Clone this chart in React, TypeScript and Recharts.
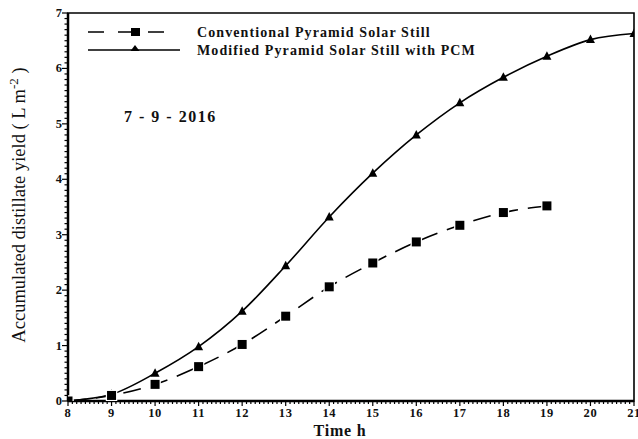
import React from 'react';
import { LineChart, Line, XAxis, YAxis, ReferenceArea, Customized } from 'recharts';

const hours = [8, 9, 10, 11, 12, 13, 14, 15, 16, 17, 18, 19, 20, 21];
const modifiedYield = [0, 0.12, 0.5, 0.98, 1.62, 2.44, 3.32, 4.11, 4.8, 5.38, 5.84, 6.22, 6.52, 6.63];
const conventionalYield = [0, 0.1, 0.3, 0.62, 1.02, 1.53, 2.06, 2.49, 2.87, 3.17, 3.4, 3.52];
const yMajorTicks = [0, 1, 2, 3, 4, 5, 6, 7];
const seriesNames = ['Conventional Pyramid Solar Still', 'Modified Pyramid Solar Still with PCM'];
const dateLabel = '7 - 9 - 2016';
const xTitle = 'Time h';

const data = hours.map((h, i) => ({
  x: h,
  modified: modifiedYield[i],
  conventional: i < conventionalYield.length ? conventionalYield[i] : null,
}));

const xMinorTicks: number[] = [];
for (let i = hours[0] * 10; i <= hours[hours.length - 1] * 10; i++) xMinorTicks.push(i / 10);
const yMinorTicks: number[] = [];
for (let i = yMajorTicks[0] * 10; i <= yMajorTicks[yMajorTicks.length - 1] * 10; i++) yMinorTicks.push(i / 10);

const isMajor = (v: number) => Math.abs(v - Math.round(v)) < 1e-6;
const FONT = '"Liberation Serif", "Times New Roman", serif';

const XTick = (props: any) => {
  const { x, y, payload } = props;
  const v = payload.value;
  const major = isMajor(v);
  return (
    <g>
      <line x1={x} x2={x} y1={y} y2={y + (major ? 5 : 3)} stroke="#000" strokeWidth={1.2} />
      {major && (
        <text x={x} y={y + 16} textAnchor="middle" fontFamily={FONT} fontWeight="bold" fontSize={12.5} letterSpacing={0.6} fill="#111">
          {Math.round(v)}
        </text>
      )}
    </g>
  );
};

const YTick = (props: any) => {
  const { x, y, payload } = props;
  const v = payload.value;
  const major = isMajor(v);
  return (
    <g>
      <line x1={x} x2={x - (major ? 6 : 3.5)} y1={y} y2={y} stroke="#000" strokeWidth={1.2} />
      {major && (
        <text x={x - 6} y={y + 4} textAnchor="end" fontFamily={FONT} fontWeight="bold" fontSize={12.5} fill="#111">
          {Math.round(v)}
        </text>
      )}
    </g>
  );
};

const Square = (props: any) => {
  const { cx, cy, index } = props;
  if (cx == null || cy == null) return <g key={`s${index}`} />;
  return <rect key={`s${index}`} x={cx - 4.5} y={cy - 4.5} width={9} height={9} fill="#000" stroke="#fff" strokeWidth={2.5} paintOrder="stroke" />;
};

const Triangle = (props: any) => {
  const { cx, cy, index } = props;
  if (cx == null || cy == null) return <g key={`t${index}`} />;
  return <path key={`t${index}`} d={`M${cx},${cy - 5} L${cx + 4.5},${cy + 3.5} L${cx - 4.5},${cy + 3.5} Z`} fill="#000" />;
};

const LegendContent = () => (
  <g transform="translate(88,23)">
    <line x1={0} x2={88} y1={9} y2={9} stroke="#000" strokeWidth={1.6} strokeDasharray="16 14" />
    <rect x={43} y={5} width={9} height={8} fill="#000" />
    <text x={109} y={13.5} fontFamily={FONT} fontWeight="bold" fontSize={14} letterSpacing={1.1} fill="#111">{seriesNames[0]}</text>
    <line x1={0} x2={92} y1={27} y2={27} stroke="#000" strokeWidth={1.6} />
    <path d="M47,22 L51.5,28 L42.5,28 Z" fill="#000" />
    <text x={109} y={31.5} fontFamily={FONT} fontWeight="bold" fontSize={14} letterSpacing={1.1} fill="#111">{seriesNames[1]}</text>
  </g>
);

const YLabel = () => (
  <text transform="translate(25,205) rotate(-90)" textAnchor="middle" fontFamily={FONT} fontSize={18.5} fill="#111">
    <tspan>Accumulated distillate yield ( L m</tspan>
    <tspan dy={-7} fontSize={13}>-2</tspan>
    <tspan dy={7}> )</tspan>
  </text>
);

const XLabel = () => (
  <text x={340} y={436} textAnchor="middle" fontFamily={FONT} fontWeight="bold" fontSize={16} letterSpacing={0.8} fill="#111">{xTitle}</text>
);

const DateText = () => (
  <text x={124} y={122} fontFamily={FONT} fontWeight="bold" fontSize={16} letterSpacing={1.5} fill="#111">{dateLabel}</text>
);

export default function App() {
  return (
    <div style={{ position: 'absolute', left: 0, top: 0, background: '#fff' }}>
      <LineChart width={638} height={439} data={data} margin={{ top: 13, right: 4, bottom: 0, left: 0 }}>
        <ReferenceArea x1={8} x2={21} y1={0} y2={7} fill="none" stroke="#000" strokeWidth={1.6} ifOverflow="visible" />
        <XAxis
          dataKey="x"
          type="number"
          domain={[8, 21]}
          ticks={xMinorTicks}
          interval={0}
          tickLine={false}
          tickSize={0}
          tickMargin={0}
          tick={<XTick />}
          axisLine={{ stroke: '#000', strokeWidth: 2.5 }}
          height={38}
          allowDataOverflow
        />
        <YAxis
          type="number"
          domain={[0, 7]}
          ticks={yMinorTicks}
          interval={0}
          tickLine={false}
          tickSize={0}
          tickMargin={0}
          tick={<YTick />}
          axisLine={{ stroke: '#000', strokeWidth: 2.5 }}
          width={68}
          allowDataOverflow
        />
        <Line
          type="monotone"
          dataKey="modified"
          stroke="#000"
          strokeWidth={1.6}
          dot={<Triangle />}
          activeDot={false}
          isAnimationActive={false}
          legendType="none"
        />
        <Line
          type="monotone"
          dataKey="conventional"
          stroke="#000"
          strokeWidth={1.6}
          strokeDasharray="18 10"
          dot={<Square />}
          activeDot={false}
          connectNulls={false}
          isAnimationActive={false}
          legendType="none"
        />
        <Customized component={<LegendContent />} />
        <Customized component={<YLabel />} />
        <Customized component={<XLabel />} />
        <Customized component={<DateText />} />
      </LineChart>
    </div>
  );
}
